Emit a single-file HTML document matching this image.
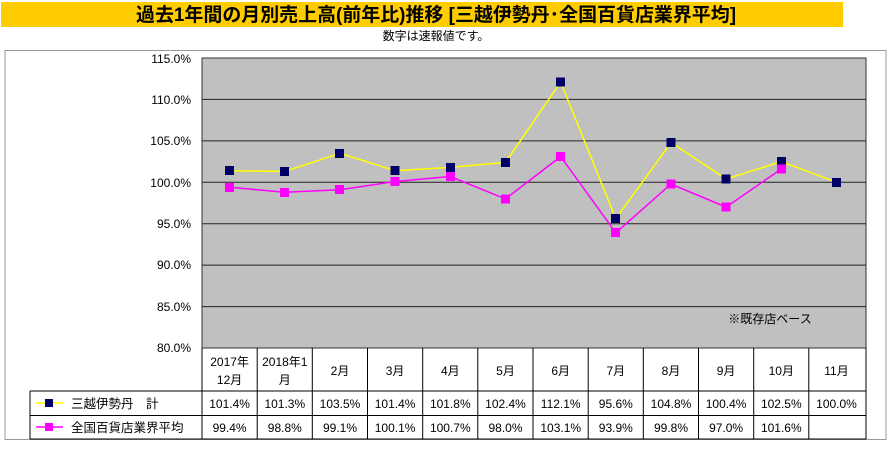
<!DOCTYPE html>
<html><head><meta charset="utf-8"><style>
body{margin:0;background:#fff;width:891px;height:444px;overflow:hidden}
svg text{font-family:"Liberation Sans","Noto Sans CJK JP",sans-serif}
</style></head><body>
<svg width="891" height="444" xmlns="http://www.w3.org/2000/svg">
<rect x="1" y="2" width="842" height="25" fill="#FFCC00"/>
<text x="436" y="21" font-size="19" font-weight="bold" text-anchor="middle" fill="#000" textLength="600" lengthAdjust="spacingAndGlyphs">過去1年間の月別売上高(前年比)推移 [三越伊勢丹･全国百貨店業界平均]</text>
<text x="436" y="40" font-size="12" text-anchor="middle">数字は速報値です。</text>
<rect x="5" y="50.5" width="881" height="389" fill="#fff" stroke="#999" stroke-width="1"/>
<rect x="202" y="58" width="664" height="290" fill="#C0C0C0" stroke="#333" stroke-width="1"/>
<g stroke="#222" stroke-width="1">
<line x1="202" y1="99.4" x2="866" y2="99.4"/><line x1="202" y1="140.9" x2="866" y2="140.9"/>
<line x1="202" y1="182.3" x2="866" y2="182.3"/><line x1="202" y1="223.7" x2="866" y2="223.7"/>
<line x1="202" y1="265.1" x2="866" y2="265.1"/><line x1="202" y1="306.6" x2="866" y2="306.6"/>
</g>
<g font-size="12" text-anchor="end">
<text x="191" y="63">115.0%</text><text x="191" y="104">110.0%</text><text x="191" y="145">105.0%</text>
<text x="191" y="187">100.0%</text><text x="191" y="228">95.0%</text><text x="191" y="269">90.0%</text>
<text x="191" y="311">85.0%</text><text x="191" y="352">80.0%</text>
</g>
<text x="770" y="323" font-size="12" text-anchor="middle">※既存店ベース</text>
<polyline fill="none" stroke="#FFFF00" stroke-width="1.5" points="229.6,170.7 284.8,171.5 340,153.3 395.1,170.7 450.3,167.4 505.5,162.4 560.7,82 615.8,218.7 671,142.5 726.1,179 781.3,161.6 836.5,182.3"/>
<polyline fill="none" stroke="#FF00FF" stroke-width="1.5" points="229.6,187.3 284.8,192.2 340,189.7 395.1,181.5 450.3,176.5 505.5,198.9 560.7,156.6 615.8,232.8 671,184 726.1,207.1 781.3,169"/>
<g fill="#000066">
<rect x="225" y="166" width="9" height="9"/><rect x="280" y="167" width="9" height="9"/><rect x="335" y="149" width="9" height="9"/>
<rect x="390.5" y="166" width="9" height="9"/><rect x="446" y="163" width="9" height="9"/><rect x="501" y="158" width="9" height="9"/>
<rect x="556" y="77.5" width="9" height="9"/><rect x="611" y="214" width="9" height="9"/><rect x="666.5" y="138" width="9" height="9"/>
<rect x="721.5" y="174.5" width="9" height="9"/><rect x="777" y="157" width="9" height="9"/><rect x="832" y="178" width="9" height="9"/>
</g>
<g fill="#FF00FF">
<rect x="225" y="183" width="9" height="9"/><rect x="280" y="188" width="9" height="9"/><rect x="335" y="185" width="9" height="9"/>
<rect x="390.5" y="177" width="9" height="9"/><rect x="446" y="172" width="9" height="9"/><rect x="501" y="194.5" width="9" height="9"/>
<rect x="556" y="152" width="9" height="9"/><rect x="611" y="228" width="9" height="9"/><rect x="666.5" y="179.5" width="9" height="9"/>
<rect x="721.5" y="202.5" width="9" height="9"/><rect x="777" y="164.5" width="9" height="9"/>
</g>
<g stroke="#000" stroke-width="1" fill="none">
<line x1="202" y1="348" x2="202" y2="439"/>
<line x1="30" y1="391" x2="866" y2="391"/><line x1="30" y1="415.5" x2="866" y2="415.5"/><line x1="30" y1="439" x2="866" y2="439"/>
<line x1="30" y1="391" x2="30" y2="439"/><line x1="866" y1="348" x2="866" y2="439"/>
<line x1="257.2" y1="348" x2="257.2" y2="439"/><line x1="312.3" y1="348" x2="312.3" y2="439"/><line x1="367.5" y1="348" x2="367.5" y2="439"/>
<line x1="422.7" y1="348" x2="422.7" y2="439"/><line x1="477.8" y1="348" x2="477.8" y2="439"/><line x1="533" y1="348" x2="533" y2="439"/>
<line x1="588.2" y1="348" x2="588.2" y2="439"/><line x1="643.3" y1="348" x2="643.3" y2="439"/><line x1="698.5" y1="348" x2="698.5" y2="439"/>
<line x1="753.7" y1="348" x2="753.7" y2="439"/><line x1="808.8" y1="348" x2="808.8" y2="439"/>
</g>
<g font-size="12" text-anchor="middle">
<text x="229.6" y="366">2017年</text><text x="229.6" y="384">12月</text>
<text x="284.8" y="366">2018年1</text><text x="284.8" y="384">月</text>
<text x="340" y="375">2月</text><text x="395.1" y="375">3月</text><text x="450.3" y="375">4月</text><text x="505.5" y="375">5月</text>
<text x="560.7" y="375">6月</text><text x="615.8" y="375">7月</text><text x="671" y="375">8月</text><text x="726.1" y="375">9月</text>
<text x="781.3" y="375">10月</text><text x="836.5" y="375">11月</text>
<text x="229.6" y="408">101.4%</text><text x="284.8" y="408">101.3%</text><text x="340" y="408">103.5%</text><text x="395.1" y="408">101.4%</text>
<text x="450.3" y="408">101.8%</text><text x="505.5" y="408">102.4%</text><text x="560.7" y="408">112.1%</text><text x="615.8" y="408">95.6%</text>
<text x="671" y="408">104.8%</text><text x="726.1" y="408">100.4%</text><text x="781.3" y="408">102.5%</text><text x="836.5" y="408">100.0%</text>
<text x="229.6" y="432">99.4%</text><text x="284.8" y="432">98.8%</text><text x="340" y="432">99.1%</text><text x="395.1" y="432">100.1%</text>
<text x="450.3" y="432">100.7%</text><text x="505.5" y="432">98.0%</text><text x="560.7" y="432">103.1%</text><text x="615.8" y="432">93.9%</text>
<text x="671" y="432">99.8%</text><text x="726.1" y="432">97.0%</text><text x="781.3" y="432">101.6%</text>
</g>
<line x1="36" y1="403" x2="63" y2="403" stroke="#FFFF00" stroke-width="1.5"/>
<rect x="45" y="399" width="8" height="8" fill="#000066"/>
<line x1="36" y1="427" x2="63" y2="427" stroke="#FF00FF" stroke-width="1.5"/>
<rect x="45" y="423" width="8" height="8" fill="#FF00FF"/>
<text x="71" y="408" font-size="12.5">三越伊勢丹　計</text>
<text x="71" y="432" font-size="12.5">全国百貨店業界平均</text>
</svg>
</body></html>
